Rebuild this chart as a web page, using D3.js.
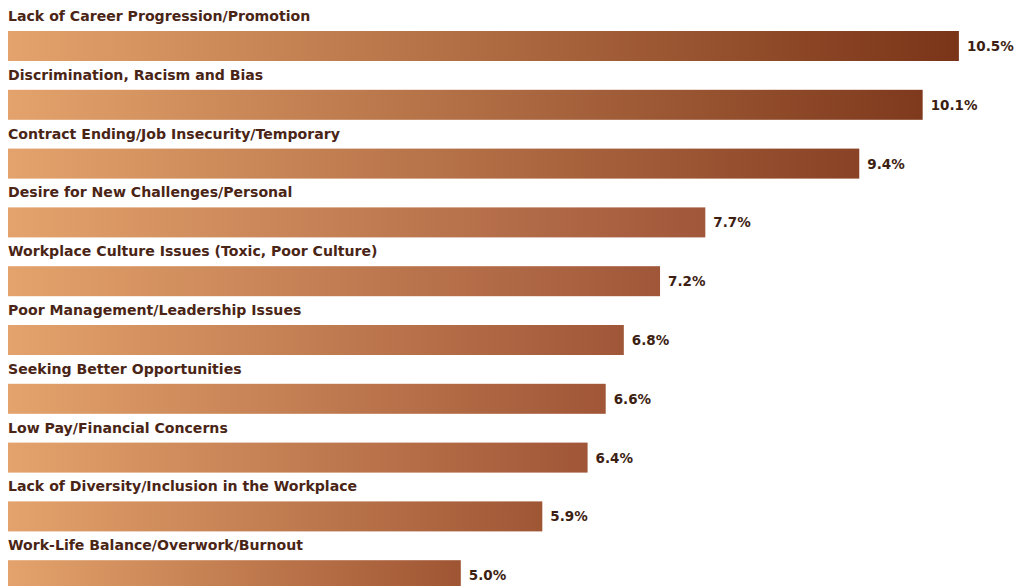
<!DOCTYPE html>
<html>
<head>
<meta charset="utf-8">
<script src="https://cdn.jsdelivr.net/npm/d3@7"></script>
<style>
  html, body { margin: 0; padding: 0; background: #ffffff; }
  svg { display: block; }
</style>
</head>
<body>
<svg id="chart" width="1030" height="586"></svg>
<script>
// Reasons for leaving, share of respondents (%)
const reasons = [
  "Lack of Career Progression/Promotion",
  "Discrimination, Racism and Bias",
  "Contract Ending/Job Insecurity/Temporary",
  "Desire for New Challenges/Personal",
  "Workplace Culture Issues (Toxic, Poor Culture)",
  "Poor Management/Leadership Issues",
  "Seeking Better Opportunities",
  "Low Pay/Financial Concerns",
  "Lack of Diversity/Inclusion in the Workplace",
  "Work-Life Balance/Overwork/Burnout"
];
const shares = [10.5, 10.1, 9.4, 7.7, 7.2, 6.8, 6.6, 6.4, 5.9, 5.0];

const data = reasons.map((r, i) => ({ reason: r, share: shares[i], id: i }));

const svg = d3.select("#chart");

const left = 8;
const x = d3.scaleLinear().domain([0, 10.7]).range([left, 977]);

// each row = category label above a bar
const y = d3.scaleBand()
  .domain(data.map(d => d.id))
  .range([2, 590])
  .paddingInner(0)
  .paddingOuter(0);

const barH = 30;
const barOffset = 29; // bar top within a row

// bar end colour darkens with the value
const endColor = d3.scaleLinear()
  .domain([5.0, 7.7, 10.5])
  .range(["#9f5533", "#a0573a", "#7a3418"])
  .interpolate(d3.interpolateRgb);

const defs = svg.append("defs");
const grads = defs.selectAll("linearGradient")
  .data(data)
  .join("linearGradient")
  .attr("id", d => "g" + d.id)
  .attr("x1", "0%").attr("x2", "100%")
  .attr("y1", "0%").attr("y2", "0%");
grads.append("stop").attr("offset", "0%").attr("stop-color", "#e4a36c");
grads.append("stop").attr("offset", "100%").attr("stop-color", d => endColor(d.share));

const rows = svg.selectAll("g.row")
  .data(data)
  .join("g")
  .attr("class", "row")
  .attr("transform", d => `translate(0,${y(d.id)})`);

rows.append("text")
  .attr("x", left)
  .attr("y", 19)
  .attr("fill", "#4a2516")
  .style("font-family", "'DejaVu Sans', sans-serif")
  .style("font-weight", "bold")
  .style("font-size", "14.1px")
  .text(d => d.reason);

rows.append("rect")
  .attr("x", left)
  .attr("y", barOffset)
  .attr("height", barH)
  .attr("width", d => x(d.share) - left)
  .attr("fill", d => `url(#g${d.id})`);

rows.append("text")
  .attr("x", d => x(d.share) + 8)
  .attr("y", barOffset + barH / 2 + 5)
  .attr("fill", "#3d1e12")
  .style("font-family", "'DejaVu Sans', sans-serif")
  .style("font-weight", "bold")
  .style("font-size", "13.5px")
  .text(d => d3.format(".1f")(d.share) + "%");
</script>
</body>
</html>
